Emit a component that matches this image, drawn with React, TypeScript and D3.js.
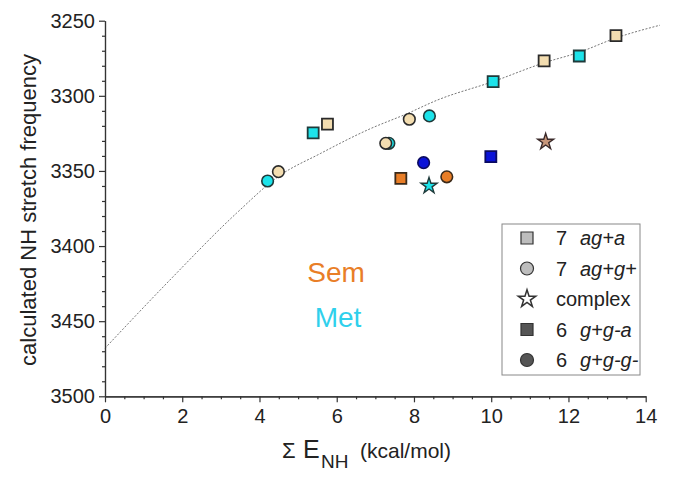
import React, { useEffect, useRef } from 'react';
import * as d3 from 'd3';

const W = 674;
const H = 478;
const FONT = '"Liberation Sans", Arial, Helvetica, sans-serif';

// axis ticks
const xTicks = [0, 2, 4, 6, 8, 10, 12, 14];
const yTicks = [3250, 3300, 3350, 3400, 3450, 3500];
const xMinorTicks = [0.5, 1, 1.5, 2.5, 3, 3.5, 4.5, 5, 5.5, 6.5, 7, 7.5, 8.5, 9, 9.5, 10.5, 11, 11.5, 12.5, 13, 13.5];
const yMinorTicks = [3260, 3270, 3280, 3290, 3310, 3320, 3330, 3340, 3360, 3370, 3380, 3390, 3410, 3420, 3430, 3440, 3460, 3470, 3480, 3490];

// dotted fit curve
const fitX = [0, 1.68, 3.41, 4.5, 5.57, 6.86, 7.81, 8.59, 10.05, 11.37, 12.28, 13.23, 14.37];
const fitY = [3468, 3422.6, 3378, 3353.5, 3338.5, 3322, 3312, 3303, 3290.5, 3278, 3271, 3261.5, 3253];

// 7 ag+a (squares)
const sq7X = [5.76, 11.37, 13.23, 5.39, 10.05, 12.28];
const sq7Y = [3318.8, 3276.8, 3260.0, 3324.6, 3290.6, 3273.5];
const sq7Tint = ['cream', 'cream', 'cream', 'cyan', 'cyan', 'cyan'];

// 7 ag+g+ (circles)
const circ7X = [7.35, 4.49, 4.21, 7.88, 8.4, 7.27];
const circ7Y = [3331.6, 3350.5, 3356.7, 3315.6, 3313.4, 3331.6];
const circ7Tint = ['cyan', 'cream', 'cyan', 'cream', 'cyan', 'cream'];

// complex (stars)
const cplxX = [8.39, 11.41];
const cplxY = [3359.9, 3330.6];
const cplxTint = ['cyan', 'brown'];

// 6 g+g-a (squares)
const sq6X = [7.66, 9.99];
const sq6Y = [3354.9, 3340.5];
const sq6Tint = ['orange', 'blue'];

// 6 g+g-g- (circles)
const circ6X = [8.25, 8.85];
const circ6Y = [3344.5, 3353.9];
const circ6Tint = ['blue', 'orange'];

// legend
const legendNum = ['7', '7', '', '6', '6'];
const legendName = ['ag+a', 'ag+g+', 'complex', 'g+g-a', 'g+g-g-'];
const legendShape = ['square', 'circle', 'star', 'square', 'circle'];
const legendFill = ['#bdbdbd', '#bdbdbd', '#ffffff', '#555555', '#555555'];

const TINT: Record<string, string> = {
  cream: '#F3DDB0',
  cyan: '#1CE3EA',
  orange: '#E97E27',
  blue: '#0A12D8',
  brown: '#C8977B',
};
const STROKE: Record<string, string> = {
  cream: '#2a2a2a',
  cyan: '#1f3a3a',
  orange: '#3a2a1a',
  blue: '#0a0a60',
  brown: '#3a2a2a',
};

const x = d3.scaleLinear().domain([0, 14]).range([105, 645.7]);
const y = d3.scaleLinear().domain([3250, 3500]).range([20.7, 396.3]);

const sqPath = d3.symbol(d3.symbolSquare, 121)()!;
const starPath = d3.symbol(d3.symbolStar, 80)()!;
const legStarPath = d3.symbol(d3.symbolStar, 95)()!;
const legSqPath = d3.symbol(d3.symbolSquare, 144)()!;

function Marker({ shape, cx, cy, tint }: { shape: string; cx: number; cy: number; tint: string }) {
  const fill = TINT[tint];
  const stroke = STROKE[tint];
  if (shape === 'circle')
    return <circle cx={cx} cy={cy} r={5.8} fill={fill} stroke={stroke} strokeWidth={1.6} />;
  if (shape === 'square')
    return <path d={sqPath} transform={`translate(${cx},${cy})`} fill={fill} stroke={stroke} strokeWidth={1.8} />;
  return <path d={starPath} transform={`translate(${cx},${cy})`} fill={fill} stroke={stroke} strokeWidth={1.4} />;
}

export default function App() {
  const axRef = useRef<SVGGElement>(null);

  useEffect(() => {
    const g = d3.select(axRef.current!);
    g.selectAll('*').remove();
    const yMinor = g.append('g').attr('transform', 'translate(105,0)')
      .call(d3.axisLeft(y).tickValues(yMinorTicks).tickSize(3).tickSizeOuter(0).tickFormat(() => ''));
    const xMinor = g.append('g').attr('transform', 'translate(0,396.3)')
      .call(d3.axisBottom(x).tickValues(xMinorTicks).tickSize(3).tickSizeOuter(0).tickFormat(() => ''));
    const yAx = g.append('g').attr('transform', 'translate(105,0)')
      .call(d3.axisLeft(y).tickValues(yTicks).tickSize(6).tickSizeOuter(0).tickPadding(4).tickFormat(d3.format('d')));
    const xAx = g.append('g').attr('transform', 'translate(0,396.3)')
      .call(d3.axisBottom(x).tickValues(xTicks).tickSize(6).tickSizeOuter(0).tickPadding(7).tickFormat(d3.format('d')));
    [yMinor, xMinor, yAx, xAx].forEach((a) => {
      a.selectAll('path').attr('stroke', '#333').attr('stroke-width', 1.2);
      a.selectAll('line').attr('stroke', '#333').attr('stroke-width', 1.2);
      a.selectAll('text').attr('fill', '#222').style('font-family', FONT).style('font-size', '20px');
    });
  }, []);

  const line = d3.line<number>().x((_, i) => x(fitX[i])).y((_, i) => y(fitY[i])).curve(d3.curveMonotoneX);

  return (
    <svg width={W} height={H} style={{ position: 'absolute', left: 0, top: 0, background: '#fff' }} fontFamily={FONT}>
      <rect width={W} height={H} fill="#fff" />
      <path d={line(fitX)!} fill="none" stroke="#777" strokeWidth={1} strokeDasharray="2,1.6" />
      <g ref={axRef} />

      {sq7X.map((v, i) => <Marker key={'s7' + i} shape="square" cx={x(v)} cy={y(sq7Y[i])} tint={sq7Tint[i]} />)}
      {circ7X.map((v, i) => <Marker key={'c7' + i} shape="circle" cx={x(v)} cy={y(circ7Y[i])} tint={circ7Tint[i]} />)}
      {sq6X.map((v, i) => <Marker key={'s6' + i} shape="square" cx={x(v)} cy={y(sq6Y[i])} tint={sq6Tint[i]} />)}
      {circ6X.map((v, i) => <Marker key={'c6' + i} shape="circle" cx={x(v)} cy={y(circ6Y[i])} tint={circ6Tint[i]} />)}
      {cplxX.map((v, i) => <Marker key={'cx' + i} shape="star" cx={x(v)} cy={y(cplxY[i])} tint={cplxTint[i]} />)}

      <text x={336} y={282} textAnchor="middle" fontSize={28} fill="#E97E27">Sem</text>
      <text x={338} y={327} textAnchor="middle" fontSize={28} fill="#2FD0EC">Met</text>

      {/* legend */}
      <rect x={502} y={224} width={138} height={151} fill="#fff" stroke="#888" strokeWidth={1} />
      {legendName.map((name, i) => {
        const cy = 238 + i * 30.5;
        const cx = 527;
        return (
          <g key={'lg' + i}>
            {legendShape[i] === 'square' && (
              <path d={legSqPath} transform={`translate(${cx},${cy})`} fill={legendFill[i]} stroke="#333" strokeWidth={1.2} />
            )}
            {legendShape[i] === 'circle' && (
              <circle cx={cx} cy={cy} r={6.5} fill={legendFill[i]} stroke="#333" strokeWidth={1.2} />
            )}
            {legendShape[i] === 'star' && (
              <path d={legStarPath} transform={`translate(${cx},${cy})`} fill={legendFill[i]} stroke="#333" strokeWidth={1.5} />
            )}
            {legendNum[i] ? (
              <text x={556} y={cy + 7} fontSize={20} fill="#222">
                {legendNum[i]}
                <tspan x={580} fontStyle="italic">{name}</tspan>
              </text>
            ) : (
              <text x={556} y={cy + 7} fontSize={20} fill="#222">{name}</text>
            )}
          </g>
        );
      })}

      {/* axis titles */}
      <text transform="translate(36,210) rotate(-90)" textAnchor="middle" fontSize={22} fill="#222">
        calculated NH stretch frequency
      </text>
      <text y={458} fill="#222">
        <tspan x={282} fontSize={22}>Σ</tspan>
        <tspan x={303} fontSize={25}>E</tspan>
        <tspan x={321} y={468} fontSize={19}>NH</tspan>
        <tspan x={360} y={458} fontSize={21}>(kcal/mol)</tspan>
      </text>
    </svg>
  );
}
